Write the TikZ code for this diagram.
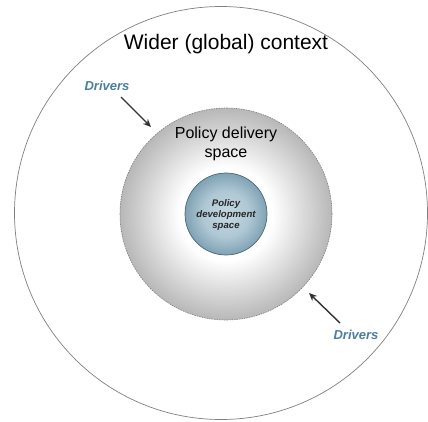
\documentclass[tikz,border=0pt]{standalone}
\usepackage{fontspec}
\setmainfont{Liberation Sans}
\usetikzlibrary{arrows.meta}
\definecolor{drvblue}{HTML}{4A7FA0}
\definecolor{innerc}{HTML}{C4D8E2}
\definecolor{innere}{HTML}{7FA2B4}
\definecolor{innerb}{HTML}{4A6878}
\pgfdeclareradialshading{deliveryshade}{\pgfpoint{0bp}{0bp}}{%
  color(0bp)=(white); color(11bp)=(white); color(25bp)=(black!28); color(50bp)=(black!28)}
\pgfdeclareradialshading{devshade}{\pgfpoint{0bp}{0bp}}{%
  color(0bp)=(innerc); color(14bp)=(innerc!70!innere); color(25bp)=(innere); color(50bp)=(innere)}
\tikzset{
  outerring/.style={circle, draw=black!50, line width=0.7pt, inner sep=0pt, minimum size=413pt},
  deliveryring/.style={circle, draw=black!50, dashed, dash pattern=on 1.5pt off 1pt, line width=0.6pt,
    shading=deliveryshade, inner sep=0pt, minimum size=212pt},
  devring/.style={circle, draw=innerb, line width=0.7pt, shading=devshade, inner sep=0pt, minimum size=82pt},
  drvlabel/.style={text=drvblue, font=\bfseries\itshape\fontsize{13}{15}\selectfont, inner sep=1pt},
  drvarrow/.style={draw=black!80, line width=1.4pt, -{Stealth[length=8pt,width=7pt]}},
}
\begin{document}
\begin{tikzpicture}[x=1pt,y=-1pt]
\useasboundingbox[fill=white] (0,0) rectangle (428,421);
\node[outerring] (outer) at (221,213) {};
\node[deliveryring] (delivery) at (226,214) {};
\node[devring] (dev) at (226,214) {};
\node[font=\fontsize{21}{24}\selectfont] (wider) at (226,44) {Wider (global) context};
\node[font=\fontsize{16}{18.5}\selectfont, align=center] (deltext) at (226,144) {Policy delivery\\space};
\node[font=\bfseries\itshape\fontsize{9.6}{11}\selectfont, align=center, text=black!85] (devtext) at (226,215) {Policy\\development\\space};
\node[drvlabel] (drv1) at (107,86) {Drivers};
\node[drvlabel] (drv2) at (356,335) {Drivers};
\coordinate (a1s) at (121,97);
\coordinate (a1e) at (151,127);
\coordinate (a2s) at (340,323);
\coordinate (a2e) at (309,293);
\draw[drvarrow] (a1s) -- (a1e);
\draw[drvarrow] (a2s) -- (a2e);
\end{tikzpicture}
\end{document}
